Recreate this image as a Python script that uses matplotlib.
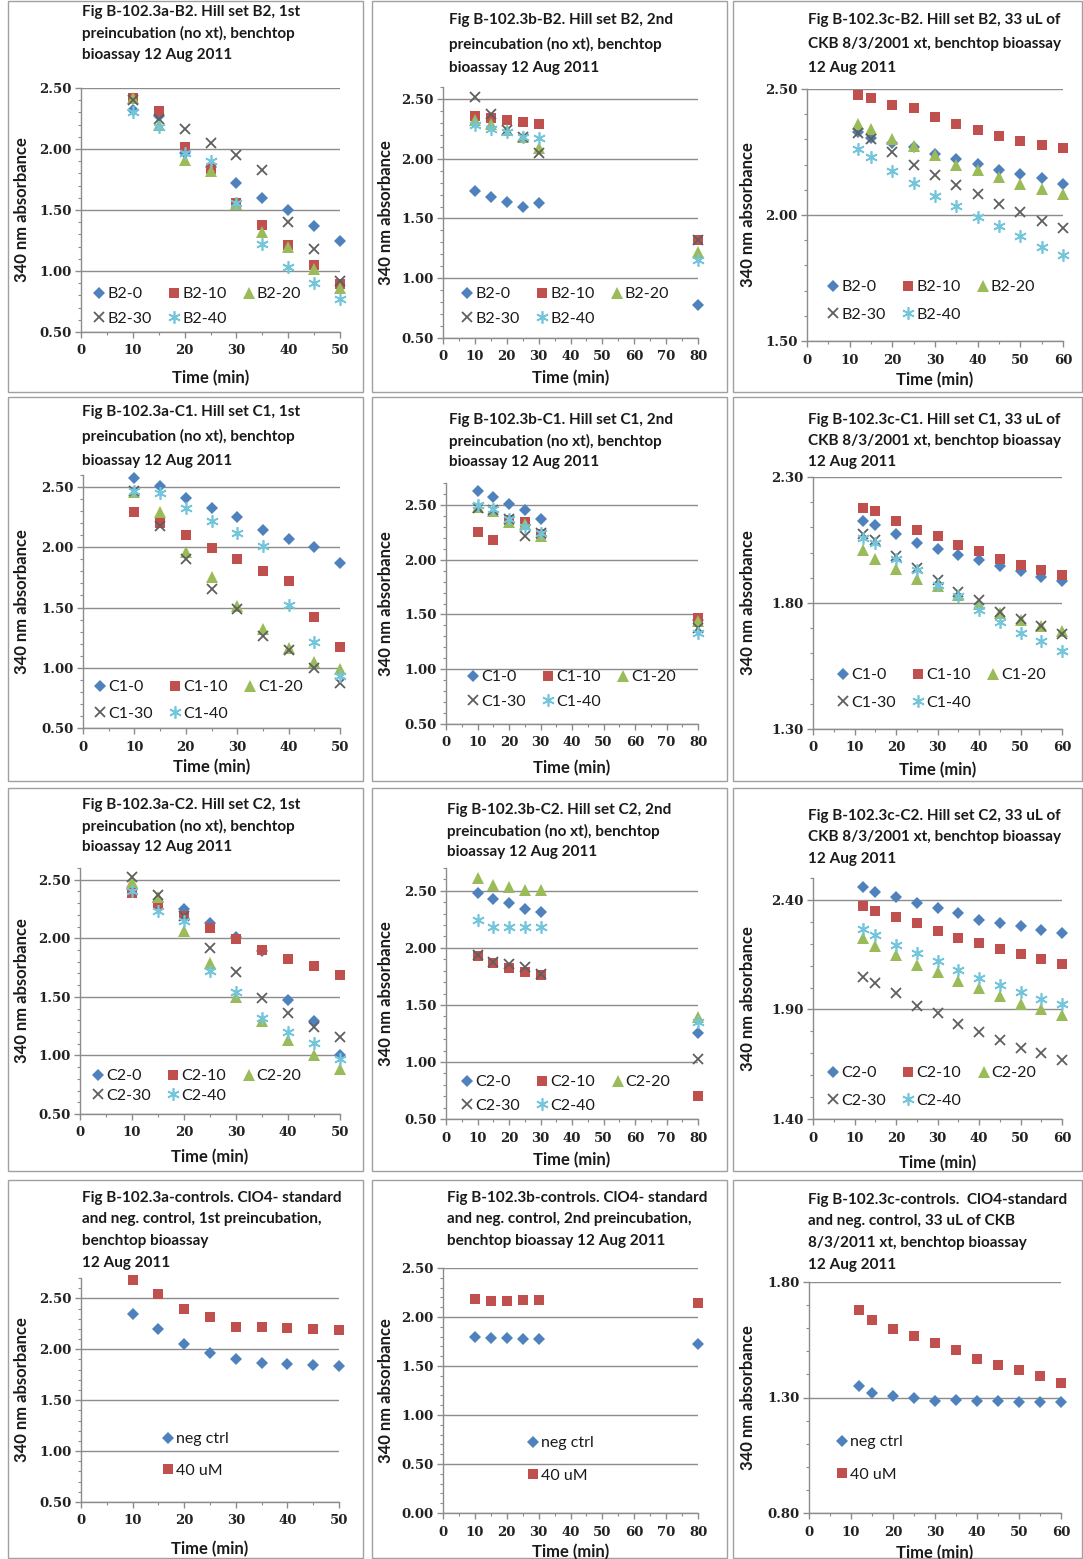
import matplotlib
matplotlib.use('Agg')
import matplotlib.pyplot as plt
from matplotlib.ticker import MultipleLocator, FormatStrFormatter
from matplotlib.patches import Rectangle

W, H = 1083, 1559

# ---------------- data ----------------
t_a = [10, 15, 20, 25, 30, 35, 40, 45, 50]
t_b = [10, 15, 20, 25, 30, 80]
t_c = [12, 15, 20, 25, 30, 35, 40, 45, 50, 55, 60]

# Fig 3a-B2
b2a_0 = [2.32, 2.27, 1.97, 1.85, 1.72, 1.60, 1.50, 1.37, 1.25]
b2a_10 = [2.42, 2.31, 2.02, 1.84, 1.56, 1.38, 1.21, 1.05, 0.89]
b2a_20 = [2.42, 2.20, 1.91, 1.82, 1.55, 1.32, 1.20, 1.02, 0.86]
b2a_30 = [2.40, 2.25, 2.16, 2.05, 1.95, 1.83, 1.40, 1.18, 0.92]
b2a_40 = [2.30, 2.18, 1.97, 1.90, 1.56, 1.22, 1.03, 0.90, 0.77]
# Fig 3b-B2
b2b_0 = [1.73, 1.68, 1.64, 1.60, 1.63, 0.78]
b2b_10 = [2.36, 2.34, 2.32, 2.31, 2.29, 1.32]
b2b_20 = [2.32, 2.29, 2.24, 2.18, 2.09, 1.22]
b2b_30 = [2.52, 2.37, 2.24, 2.18, 2.05, 1.32]
b2b_40 = [2.28, 2.25, 2.22, 2.18, 2.17, 1.15]
# Fig 3c-B2
b2c_0 = [2.328, 2.306, 2.284, 2.270, 2.244, 2.224, 2.204, 2.180, 2.162, 2.145, 2.125]
b2c_10 = [2.476, 2.463, 2.436, 2.423, 2.390, 2.363, 2.337, 2.314, 2.294, 2.277, 2.264]
b2c_20 = [2.360, 2.343, 2.303, 2.274, 2.240, 2.200, 2.180, 2.150, 2.124, 2.104, 2.084]
b2c_30 = [2.326, 2.300, 2.250, 2.200, 2.160, 2.120, 2.084, 2.044, 2.010, 1.977, 1.947]
b2c_40 = [2.262, 2.230, 2.176, 2.127, 2.077, 2.034, 1.993, 1.955, 1.915, 1.874, 1.840]
# Fig 3a-C1
c1a_0 = [2.575, 2.505, 2.41, 2.33, 2.25, 2.145, 2.07, 2.00, 1.87]
c1a_10 = [2.29, 2.20, 2.10, 1.99, 1.90, 1.80, 1.72, 1.42, 1.17]
c1a_20 = [2.46, 2.29, 1.96, 1.75, 1.51, 1.32, 1.16, 1.05, 0.99]
c1a_30 = [2.47, 2.18, 1.90, 1.65, 1.49, 1.26, 1.15, 1.00, 0.87]
c1a_40 = [2.47, 2.45, 2.33, 2.22, 2.12, 2.01, 1.52, 1.21, 0.93]
# Fig 3b-C1
c1b_0 = [2.63, 2.57, 2.51, 2.45, 2.37, 1.45]
c1b_10 = [2.25, 2.18, 2.36, 2.34, 2.23, 1.47]
c1b_20 = [2.48, 2.44, 2.34, 2.33, 2.22, 1.44]
c1b_30 = [2.47, 2.45, 2.37, 2.22, 2.24, 1.38]
c1b_40 = [2.50, 2.46, 2.37, 2.30, 2.24, 1.33]
# Fig 3c-C1
c1c_0 = [2.127, 2.111, 2.075, 2.040, 2.014, 1.992, 1.972, 1.948, 1.926, 1.903, 1.886]
c1c_10 = [2.177, 2.164, 2.124, 2.090, 2.065, 2.030, 2.005, 1.975, 1.952, 1.932, 1.912]
c1c_20 = [2.009, 1.976, 1.936, 1.897, 1.866, 1.830, 1.797, 1.762, 1.733, 1.707, 1.687]
c1c_30 = [2.075, 2.050, 1.985, 1.940, 1.893, 1.844, 1.813, 1.766, 1.735, 1.707, 1.678]
c1c_40 = [2.058, 2.040, 1.975, 1.932, 1.873, 1.826, 1.773, 1.723, 1.680, 1.648, 1.608]
# Fig 3a-C2
c2a_0 = [2.42, 2.31, 2.25, 2.13, 2.01, 1.89, 1.47, 1.29, 1.00]
c2a_10 = [2.39, 2.29, 2.19, 2.09, 1.99, 1.90, 1.82, 1.76, 1.69]
c2a_20 = [2.48, 2.35, 2.06, 1.79, 1.50, 1.29, 1.13, 1.00, 0.88]
c2a_30 = [2.52, 2.37, 2.19, 1.92, 1.71, 1.49, 1.36, 1.24, 1.16]
c2a_40 = [2.40, 2.23, 2.15, 1.72, 1.54, 1.32, 1.20, 1.11, 0.97]
# Fig 3b-C2
c2b_0 = [2.48, 2.43, 2.39, 2.34, 2.31, 1.25]
c2b_10 = [1.93, 1.87, 1.82, 1.79, 1.76, 0.70]
c2b_20 = [2.61, 2.55, 2.53, 2.51, 2.51, 1.39]
c2b_30 = [1.94, 1.88, 1.86, 1.83, 1.77, 1.03]
c2b_40 = [2.24, 2.18, 2.18, 2.18, 2.18, 1.35]
# Fig 3c-C2
c2c_0 = [2.458, 2.438, 2.412, 2.385, 2.362, 2.342, 2.309, 2.294, 2.279, 2.263, 2.248]
c2c_10 = [2.373, 2.351, 2.324, 2.294, 2.256, 2.225, 2.202, 2.175, 2.154, 2.131, 2.108]
c2c_20 = [2.225, 2.190, 2.149, 2.105, 2.072, 2.029, 1.996, 1.961, 1.927, 1.900, 1.874]
c2c_30 = [2.050, 2.020, 1.973, 1.915, 1.882, 1.832, 1.796, 1.761, 1.725, 1.700, 1.670]
c2c_40 = [2.266, 2.240, 2.195, 2.157, 2.119, 2.078, 2.043, 2.013, 1.980, 1.950, 1.924]
# Controls
ctl_a_neg = [2.35, 2.20, 2.05, 1.96, 1.90, 1.87, 1.855, 1.845, 1.835]
ctl_a_40 = [2.68, 2.54, 2.40, 2.32, 2.22, 2.22, 2.21, 2.20, 2.19]
ctl_b_neg = [1.80, 1.79, 1.79, 1.78, 1.78, 1.72]
ctl_b_40 = [2.18, 2.16, 2.16, 2.17, 2.17, 2.14]
ctl_c_neg = [1.35, 1.32, 1.306, 1.298, 1.286, 1.288, 1.286, 1.286, 1.28, 1.28, 1.28]
ctl_c_40 = [1.677, 1.637, 1.598, 1.565, 1.536, 1.507, 1.468, 1.442, 1.418, 1.392, 1.363]

set_suffix = ['0', '10', '20', '30', '40']
ctl_labels = ['neg ctrl', '40 uM']

titles = [
    ["Fig B-102.3a-B2. Hill set B2, 1st", "preincubation (no xt), benchtop", "bioassay 12 Aug 2011"],
    ["Fig B-102.3b-B2. Hill set B2, 2nd", "preincubation (no xt), benchtop", "bioassay 12 Aug 2011"],
    ["Fig B-102.3c-B2. Hill set B2, 33 uL of", "CKB 8/3/2001 xt, benchtop bioassay", "12 Aug 2011"],
    ["Fig B-102.3a-C1. Hill set C1, 1st", "preincubation (no xt), benchtop", "bioassay 12 Aug 2011"],
    ["Fig B-102.3b-C1. Hill set C1, 2nd", "preincubation (no xt), benchtop", "bioassay 12 Aug 2011"],
    ["Fig B-102.3c-C1. Hill set C1, 33 uL of", "CKB 8/3/2001 xt, benchtop bioassay", "12 Aug 2011"],
    ["Fig B-102.3a-C2. Hill set C2, 1st", "preincubation (no xt), benchtop", "bioassay 12 Aug 2011"],
    ["Fig B-102.3b-C2. Hill set C2, 2nd", "preincubation (no xt), benchtop", "bioassay 12 Aug 2011"],
    ["Fig B-102.3c-C2. Hill set C2, 33 uL of", "CKB 8/3/2001 xt, benchtop bioassay", "12 Aug 2011"],
    ["Fig B-102.3a-controls. ClO4- standard", "and neg. control, 1st preincubation,", "benchtop bioassay", "12 Aug 2011"],
    ["Fig B-102.3b-controls. ClO4- standard", "and neg. control, 2nd preincubation,", "benchtop bioassay 12 Aug 2011"],
    ["Fig B-102.3c-controls.  ClO4-standard", "and neg. control, 33 uL of CKB", "8/3/2011 xt, benchtop bioassay", "12 Aug 2011"],
]

# ---------------- styles ----------------
COLORS = ['#4F81BD', '#C0504D', '#9BBB59', '#5f5f5f', '#72C5DA']
MARKERS = [dict(marker='D', ms=6.3, mew=0),
           dict(marker='s', ms=7.8, mew=0),
           dict(marker='^', ms=8.3, mew=0),
           dict(marker='x', ms=7.5, mew=1.3),
           dict(marker=(6, 2, 0), ms=9.0, mew=1.2)]

FAM = ['Lato', 'DejaVu Sans']
TITLE_FONT = dict(family=FAM, weight='bold', size=11, color='#1a1a1a')
LABEL_FONT = dict(family=FAM, weight='bold', size=12, color='#1a1a1a')
LEGEND_PROP = dict(family=FAM, size=11.5)
TICK_FAMILY = 'DejaVu Serif'
GRID = '#8c8c8c'

fig = plt.figure(figsize=(W / 100, H / 100), dpi=100)
fig.patch.set_facecolor('white')


def fx(x):
    return x / W


def fy(y):
    return 1 - y / H


cols = [(8, 363), (372, 727), (733, 1082)]
rows = [(1, 392), (397, 781), (788, 1171), (1180, 1558)]

axes_px = [
    (81, 88, 340, 332), (443, 87, 698, 338), (807, 89, 1063, 341),
    (83, 475, 340, 728), (446, 483, 698, 724), (813, 477, 1062, 729),
    (80, 868, 340, 1114), (446, 868, 698, 1119), (813, 878, 1062, 1119),
    (81, 1278, 339, 1502), (443, 1268, 698, 1513), (809, 1282, 1061, 1513),
]
ylims = [(0.5, 2.5), (0.5, 2.6), (1.5, 2.5),
         (0.5, 2.6), (0.5, 2.7), (1.3, 2.3),
         (0.5, 2.6), (0.5, 2.7), (1.4, 2.5),
         (0.5, 2.7), (0.0, 2.5), (0.8, 1.8)]
xmaxs = [50, 80, 60] * 4
title_pos = [(82, 12, 21.5), (449, 20, 24), (808, 20, 24),
             (82, 412, 24.5), (449, 420, 21), (808, 420, 21),
             (82, 805, 21), (447, 810, 21), (808, 816, 21.5),
             (82, 1198, 21.5), (447, 1198, 21.5), (808, 1200, 21.5)]
legend_pos = [(93, 287, 0.64), (461, 287, 0.64), (827, 280, 0.83),
              (94, 680, 0.77), (467, 670, 0.64), (837, 668, 0.83),
              (92, 1069, 0.33), (461, 1075, 0.58), (827, 1066, 0.83),
              (162, 1432, 1.08), (527, 1436, 1.14), (836, 1435, 1.14)]
xlabel_y = [378, 378, 380, 767, 768, 770, 1157, 1160, 1163, 1549, 1552, 1553]
ylabel_x = [22, 386, 748]

panel_data = [
    ('B2', t_a, [b2a_0, b2a_10, b2a_20, b2a_30, b2a_40]),
    ('B2', t_b, [b2b_0, b2b_10, b2b_20, b2b_30, b2b_40]),
    ('B2', t_c, [b2c_0, b2c_10, b2c_20, b2c_30, b2c_40]),
    ('C1', t_a, [c1a_0, c1a_10, c1a_20, c1a_30, c1a_40]),
    ('C1', t_b, [c1b_0, c1b_10, c1b_20, c1b_30, c1b_40]),
    ('C1', t_c, [c1c_0, c1c_10, c1c_20, c1c_30, c1c_40]),
    ('C2', t_a, [c2a_0, c2a_10, c2a_20, c2a_30, c2a_40]),
    ('C2', t_b, [c2b_0, c2b_10, c2b_20, c2b_30, c2b_40]),
    ('C2', t_c, [c2c_0, c2c_10, c2c_20, c2c_30, c2c_40]),
    (None, t_a, [ctl_a_neg, ctl_a_40]),
    (None, t_b, [ctl_b_neg, ctl_b_40]),
    (None, t_c, [ctl_c_neg, ctl_c_40]),
]

for i in range(12):
    r, c = divmod(i, 3)
    x0, x1 = cols[c]
    y0, y1 = rows[r]
    fig.patches.append(Rectangle((fx(x0), fy(y1)), (x1 - x0) / W, (y1 - y0) / H,
                                 transform=fig.transFigure, fill=False,
                                 edgecolor='#a0a0a0', linewidth=1.0, zorder=0))
    ax0, ay0, ax1, ay1 = axes_px[i]
    ax = fig.add_axes([fx(ax0), fy(ay1), (ax1 - ax0) / W, (ay1 - ay0) / H])
    ax.set_facecolor('none')
    ymin, ymax = ylims[i]
    ax.set_xlim(0, xmaxs[i])
    ax.set_ylim(ymin, ymax)
    ax.yaxis.set_major_locator(MultipleLocator(0.5, offset=ymin % 0.5))
    ax.yaxis.set_minor_locator(MultipleLocator(0.1))
    ax.yaxis.set_major_formatter(FormatStrFormatter('%.2f'))
    ax.xaxis.set_major_locator(MultipleLocator(10))
    ax.xaxis.set_minor_locator(MultipleLocator(5))
    for s in ['top', 'right']:
        ax.spines[s].set_visible(False)
    for s in ['left', 'bottom']:
        ax.spines[s].set_color(GRID)
        ax.spines[s].set_linewidth(1.0)
    ax.tick_params(axis='both', which='major', direction='out', length=4, width=1,
                   color=GRID, labelsize=9.5, labelcolor='#222222', pad=3)
    ax.tick_params(axis='both', which='minor', direction='out', length=2.5, width=0.8, color=GRID)
    ax.tick_params(axis='x', which='major', pad=5)
    for lab in ax.get_xticklabels() + ax.get_yticklabels():
        lab.set_family(TICK_FAMILY)
        lab.set_weight('bold')
    ax.yaxis.grid(True, which='major', color=GRID, linewidth=1.0)
    ax.set_axisbelow(True)

    prefix, t, series = panel_data[i]
    handles = []
    for k, yv in enumerate(series):
        col = COLORS[k]
        mk = MARKERS[k]
        lab = ctl_labels[k] if prefix is None else f"{prefix}-{set_suffix[k]}"
        h, = ax.plot(t, yv, linestyle='none', color=col, mec=col, label=lab,
                     clip_on=False, zorder=3 + k, **mk)
        handles.append(h)

    lx, ly, lsp = legend_pos[i]
    if prefix is None:
        hs = handles
        ncol = 1
    else:
        hs = [handles[j] for j in [0, 3, 1, 4, 2]]
        ncol = 3
    leg = fig.legend(hs, [h.get_label() for h in hs], loc='upper left',
                     bbox_to_anchor=(fx(lx), fy(ly)), bbox_transform=fig.transFigure,
                     frameon=False, ncol=ncol, handlelength=0.8, handletextpad=0.1,
                     columnspacing=1.0, labelspacing=lsp, borderpad=0, borderaxespad=0,
                     prop=LEGEND_PROP)
    for txt in leg.get_texts():
        txt.set_color('#1a1a1a')

    tx, ty, tsp = title_pos[i]
    for j, line in enumerate(titles[i]):
        fig.text(fx(tx), fy(ty + j * tsp), line, ha='left', va='center', **TITLE_FONT)

    fig.text(fx((ax0 + ax1) / 2), fy(xlabel_y[i]), 'Time (min)', ha='center', va='center', **LABEL_FONT)
    fig.text(fx(ylabel_x[c]), fy((ay0 + ay1) / 2), '340 nm absorbance', ha='center', va='center',
             rotation=90, **LABEL_FONT)

fig.savefig('out.png', dpi=100, facecolor='white')
